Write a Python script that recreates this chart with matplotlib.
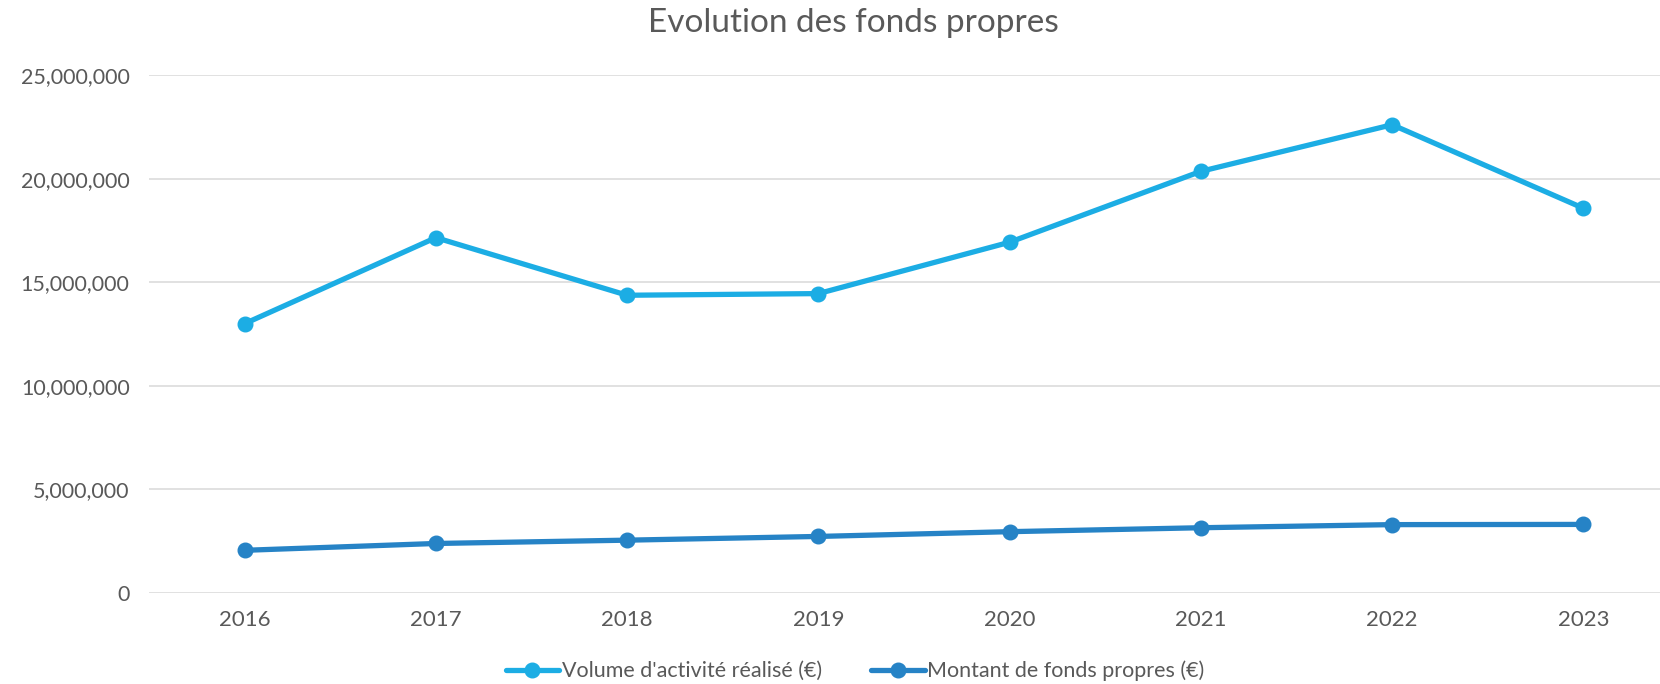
import numpy as np
import matplotlib
matplotlib.use("Agg")
import matplotlib.pyplot as plt
from matplotlib.ticker import FuncFormatter

plt.rcParams['font.family'] = ['Lato', 'DejaVu Sans']

# data
years = ['2016', '2017', '2018', '2019', '2020', '2021', '2022', '2023']
volume = [13.0e6, 17.15e6, 14.37e6, 14.45e6, 16.93e6, 20.35e6, 22.6e6, 18.57e6]
fonds = [2.06e6, 2.39e6, 2.55e6, 2.73e6, 2.96e6, 3.15e6, 3.30e6, 3.31e6]
labels = ["Volume d'activité réalisé (€)", "Montant de fonds propres (€)"]
colors = ['#1CADE4', '#2683C6']

W, H = 1660, 684
fig = plt.figure(figsize=(W / 100, H / 100), dpi=100)
ax = fig.add_axes([149 / W, (H - 593) / H, (1679 - 149) / W, (593 - 75) / H])

x = np.arange(len(years))
for vals, lab, col in zip([volume, fonds], labels, colors):
    ax.plot(x, vals, color=col, lw=3.8, marker='o', ms=10.5, label=lab,
            solid_capstyle='round', clip_on=False)

ax.set_xlim(-0.5, len(years) - 0.5)
ax.set_ylim(0, 25e6)
ax.set_yticks(np.arange(0, 25e6 + 1, 5e6))
ax.yaxis.set_major_formatter(FuncFormatter(lambda v, p: f'{int(v):,}'))
ax.set_xticks(x)
ax.set_xticklabels(years)
ax.grid(axis='y', color='#D9D9D9', lw=1.1)
ax.set_axisbelow(True)
for s in ax.spines.values():
    s.set_visible(False)
ax.tick_params(length=0, labelsize=16, colors='#595959', pad=12)
ax.tick_params(axis='y', labelsize=15.5, pad=14)

fig.text(853 / W, 1 - 23 / H, 'Evolution des fonds propres', ha='center', va='center',
         fontsize=24, color='#595959')

fig.legend(loc='center', bbox_to_anchor=(855 / W, 1 - 671 / H), ncol=2, frameon=False,
           fontsize=15.5, labelcolor='#595959', handlelength=2.5, handletextpad=0.1,
           columnspacing=2.3)

fig.savefig('out.png', dpi=100)
